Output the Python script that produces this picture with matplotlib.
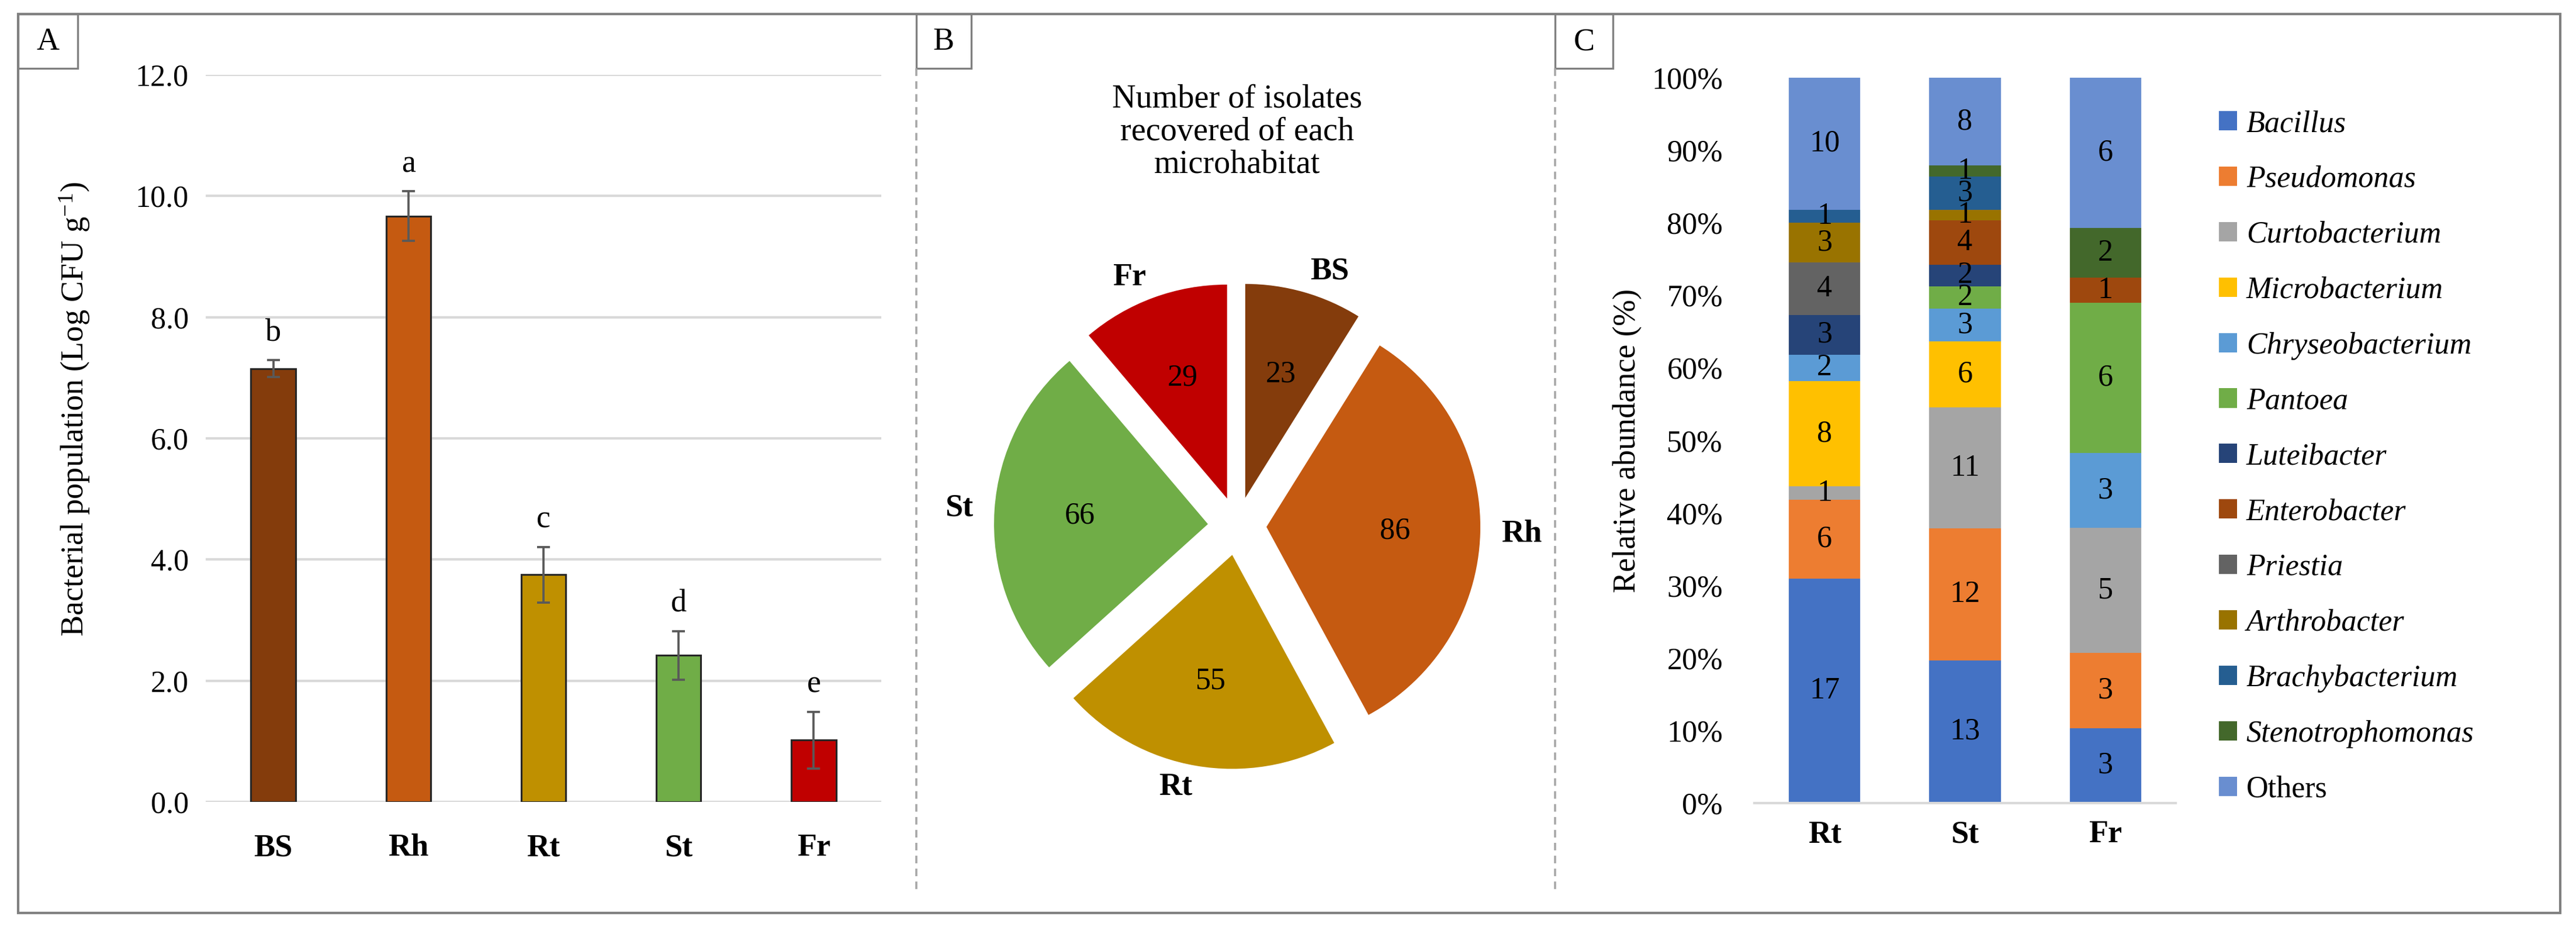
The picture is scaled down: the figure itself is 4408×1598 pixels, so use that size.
"""Three-panel figure: bacterial population (A), isolates per microhabitat (B),
relative abundance of genera per plant organ (C)."""

import matplotlib
matplotlib.use("Agg")
import matplotlib.pyplot as plt
from matplotlib.patches import Rectangle
from matplotlib.lines import Line2D
import numpy as np

plt.rcParams["font.family"] = ["Liberation Serif", "DejaVu Serif"]
plt.rcParams["mathtext.fontset"] = "custom"
plt.rcParams["mathtext.rm"] = "Liberation Serif"
plt.rcParams["lines.scale_dashes"] = False

W, H, DPI = 4408, 1598, 300

# --- panel A: bacterial population
habitats = ["BS", "Rh", "Rt", "St", "Fr"]
population = [7.15, 9.67, 3.75, 2.42, 1.02]
population_err = [0.14, 0.41, 0.46, 0.40, 0.47]
letters = ["b", "a", "c", "d", "e"]
habitat_colors = ["#843C0C", "#C55A11", "#BF9000", "#70AD47", "#C00000"]

# --- panel B: isolates per microhabitat
isolates = [23, 86, 55, 66, 29]

# --- panel C: genera per organ (Rt, St, Fr)
organs = ["Rt", "St", "Fr"]
genera = ["Bacillus", "Pseudomonas", "Curtobacterium", "Microbacterium",
          "Chryseobacterium", "Pantoea", "Luteibacter", "Enterobacter",
          "Priestia", "Arthrobacter", "Brachybacterium", "Stenotrophomonas",
          "Others"]
genus_counts = [
    [17, 13, 3],
    [6, 12, 3],
    [1, 11, 5],
    [8, 6, 0],
    [2, 3, 3],
    [0, 2, 6],
    [3, 2, 0],
    [0, 4, 1],
    [4, 0, 0],
    [3, 1, 0],
    [1, 3, 0],
    [0, 1, 2],
    [10, 8, 6],
]
genus_colors = ["#4472C4", "#ED7D31", "#A5A5A5", "#FFC000", "#5B9BD5",
                "#70AD47", "#264478", "#9E480E", "#636363", "#997300",
                "#255E91", "#43682B", "#698ED0"]

fig = plt.figure(figsize=(W / DPI, H / DPI), dpi=DPI)


def fx(px):
    return px / W


def fy(py):
    return 1 - py / H


# ---------- panel A
ax_a = fig.add_axes([fx(352), fy(1372), 1156 / W, 1244 / H])
xa = np.arange(len(habitats))
ax_a.bar(xa, population, width=0.33, color=habitat_colors,
         edgecolor="#262626", linewidth=0.75, zorder=3)
ax_a.errorbar(xa, population, yerr=population_err, fmt="none",
              ecolor="#595959", elinewidth=0.9, capsize=2.7, capthick=0.9,
              zorder=4)
for xi, v, e, lt in zip(xa, population, population_err, letters):
    ax_a.annotate(lt, (xi, v + e), xytext=(0, 5), textcoords="offset points",
                  ha="center", va="bottom", fontsize=13)
ax_a.set_xlim(-0.5, len(habitats) - 0.5)
ax_a.set_ylim(0, 12)
yt = np.arange(0, 12.1, 2)
ax_a.set_yticks(yt)
ax_a.set_yticklabels([f"{v:.1f}" for v in yt])
ax_a.set_xticks(xa)
ax_a.set_xticklabels(habitats, fontweight="bold", fontsize=13)
ax_a.grid(axis="y", color="#D9D9D9", linewidth=1.0)
ax_a.set_axisbelow(True)
for s in ax_a.spines.values():
    s.set_visible(False)
ax_a.tick_params(axis="y", length=0, pad=7, labelsize=12.5)
ax_a.tick_params(axis="x", length=0, pad=13)
ax_a.set_ylabel(r"Bacterial population (Log CFU g$\mathregular{^{-1}}$)",
                fontsize=13)
ax_a.yaxis.label.set_va("center")
ax_a.yaxis.set_label_coords(-0.194, 0.54)

# ---------- panel B
ax_b = fig.add_axes([fx(1568), fy(1449), 1098 / W, 1098 / H])
total = sum(isolates)
wedges, texts, autotexts = ax_b.pie(
    isolates, labels=habitats, colors=habitat_colors,
    explode=[0.137] * len(isolates), startangle=90, counterclock=False,
    labeldistance=1.1, pctdistance=0.6,
    autopct=lambda p: f"{p * total / 100:.0f}",
    wedgeprops=dict(linewidth=0), textprops=dict(fontsize=12.5))
for t in texts:
    t.set_fontweight("bold")
    t.set_fontsize(13)
ax_b.set_xlim(-1.5, 1.5)
ax_b.set_ylim(-1.5, 1.5)
fig.text(fx(2117), fy(226), "Number of isolates\nrecovered of each\nmicrohabitat",
         ha="center", va="center", fontsize=13.5, linespacing=1.1)

# ---------- panel C
ax_c = fig.add_axes([fx(3002), fy(1374), 721 / W, 1241 / H])
xc = np.arange(len(organs))
organ_totals = np.sum(genus_counts, axis=0)
bottom = np.zeros(len(organs))
for name, cnt, col in zip(genera, genus_counts, genus_colors):
    cnt = np.array(cnt)
    pct = cnt / organ_totals * 100
    bars = ax_c.bar(xc, pct, width=0.51, bottom=bottom, color=col, label=name)
    ax_c.bar_label(bars, labels=[str(c) if c else "" for c in cnt],
                   label_type="center", fontsize=12.5)
    bottom += pct
ax_c.set_xlim(-0.5, len(organs) - 0.5)
ax_c.set_ylim(0, 100)
ax_c.set_yticks(np.arange(0, 101, 10))
ax_c.set_yticklabels([f"{v}%" for v in range(0, 101, 10)])
ax_c.set_xticks(xc)
ax_c.set_xticklabels(organs, fontweight="bold", fontsize=13)
for k, s in ax_c.spines.items():
    s.set_visible(k == "bottom")
ax_c.spines["bottom"].set_color("#D9D9D9")
ax_c.spines["bottom"].set_linewidth(1.0)
ax_c.tick_params(axis="y", length=0, pad=13, labelsize=12.5)
ax_c.tick_params(axis="x", length=0, pad=7)
ax_c.set_ylabel("Relative abundance (%)", fontsize=13)
ax_c.yaxis.label.set_va("center")
ax_c.yaxis.set_label_coords(-0.301, 0.5)

leg = ax_c.legend(loc="upper left", bbox_to_anchor=(fx(3797), fy(188)),
                  bbox_transform=fig.transFigure, frameon=False,
                  fontsize=12.5, handlelength=0.6, handleheight=0.6,
                  handletextpad=0.3, labelspacing=0.9, borderpad=0,
                  borderaxespad=0)
for t in leg.get_texts():
    if t.get_text() != "Others":
        t.set_fontstyle("italic")

# ---------- frame, separators and panel tags
frame_col = "#808080"
fig.add_artist(Rectangle((fx(31), fy(1562)), (4381 - 31) / W, (1562 - 24) / H,
                         transform=fig.transFigure, fill=False,
                         edgecolor=frame_col, linewidth=1.0))
for sx in (1568, 2661):
    fig.add_artist(Line2D([fx(sx), fx(sx)], [fy(117), fy(1527)],
                          transform=fig.transFigure, color="#A6A6A6",
                          linewidth=0.85, linestyle=(0, (3.1, 2.2))))
for tag, x0, x1 in (("A", 31, 133), ("B", 1568, 1662), ("C", 2661, 2760)):
    fig.add_artist(Rectangle((fx(x0), fy(117)), (x1 - x0) / W, (117 - 24) / H,
                             transform=fig.transFigure, fill=False,
                             edgecolor=frame_col, linewidth=0.8))
    fig.text(fx((x0 + x1) / 2), fy(72), tag, ha="center", va="center",
             fontsize=13)

fig.savefig("out.png", dpi=DPI, facecolor="white")
plt.close(fig)
